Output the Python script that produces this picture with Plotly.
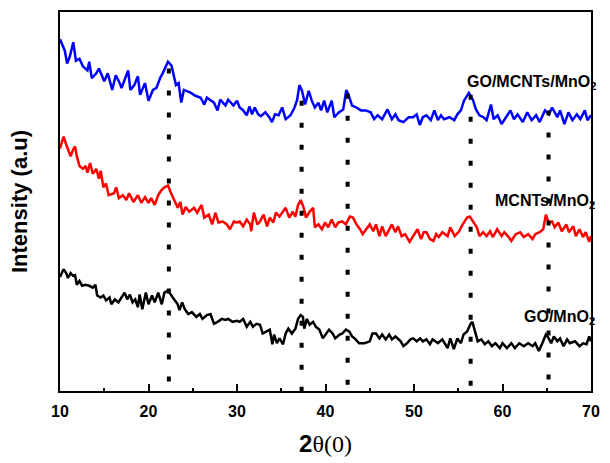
import plotly.graph_objects as go

# ---- data (2theta in degrees, intensity in arbitrary units) ----
tt_gmm = [10.0, 10.55, 10.8, 11.1, 11.5, 11.8, 12.2, 12.6, 13.1, 13.3, 13.6, 14.1, 14.4, 14.7, 15.0, 15.4, 15.9, 16.3,
          16.65, 16.95, 17.3, 17.7, 17.95, 18.4, 18.8, 19.05, 19.6, 20.0, 20.5, 20.9, 21.3, 21.6, 22.2, 22.6, 23.1, 23.4,
          23.7, 24.0, 24.8, 25.3, 25.9, 26.3, 26.6, 27.4, 27.8, 28.1, 28.7, 29.0, 29.6, 30.0, 30.3, 30.7, 31.1, 31.4,
          31.7, 32.0, 32.4, 32.7, 33.2, 33.65, 33.95, 34.3, 34.7, 35.1, 35.5, 36.05, 36.5, 36.8, 37.05, 37.35, 37.7,
          38.1, 38.45, 38.8, 39.2, 39.5, 39.85, 40.2, 40.7, 41.0, 41.5, 42.0, 42.35, 42.6, 43.0, 43.5, 44.0, 44.55,
          45.1, 45.5, 45.9, 46.4, 47.0, 47.5, 47.9, 48.25, 48.8, 49.4, 49.9, 50.3, 50.65, 51.0, 51.4, 51.9, 52.3,
          52.7, 53.05, 53.4, 54.0, 54.55, 54.9, 55.3, 55.65, 56.2, 56.65, 57.0, 57.4, 57.85, 58.2, 58.7, 59.0, 59.45,
          59.9, 60.45, 60.9, 61.3, 61.7, 62.3, 62.8, 63.3, 63.8, 64.2, 64.8, 65.25, 65.6, 66.2, 66.5, 67.0, 67.45,
          67.9, 68.4, 68.8, 69.3, 69.6, 69.9, 70.0]
int_gmm = [360, 348, 335, 342, 357, 338, 340, 332, 328, 337, 320, 325, 330, 323, 317, 325, 308, 323,
           317, 310, 318, 328, 308, 313, 322, 303, 315, 297, 308, 310, 320, 325, 337, 333, 313, 315,
           295, 308, 305, 302, 300, 293, 300, 295, 287, 298, 292, 298, 292, 297, 290, 287, 282, 291,
           283, 290, 283, 281, 285, 280, 275, 283, 282, 290, 278, 282, 290, 298, 313, 307, 293,
           307, 297, 290, 295, 287, 297, 285, 297, 280, 285, 288, 308, 303, 292, 290, 287, 287,
           285, 278, 282, 278, 288, 278, 283, 277, 275, 280, 280, 283, 272, 280, 282, 277, 287,
           277, 282, 278, 280, 277, 283, 287, 297, 305, 298, 288, 282, 280, 277, 293, 278, 282,
           273, 280, 287, 278, 283, 275, 285, 277, 282, 275, 287, 283, 290, 280, 287, 273, 285,
           277, 283, 278, 287, 277, 280, 282]

tt_mm = [10.0, 10.4, 10.7, 10.9, 11.2, 11.5, 11.7, 11.9, 12.2, 12.6, 12.9, 13.1, 13.4, 13.7, 14.1, 14.4, 14.6, 14.9,
         15.2, 15.5, 16.1, 16.35, 16.65, 17.1, 17.5, 17.8, 18.3, 18.8, 19.2, 19.6, 20.0, 20.3, 20.7, 21.1, 21.45,
         21.8, 22.2, 22.5, 22.9, 23.3, 23.6, 23.85, 24.2, 24.6, 25.15, 25.5, 26.0, 26.3, 26.8, 27.2, 27.55, 27.9,
         28.4, 28.85, 29.2, 29.65, 30.0, 30.3, 30.7, 31.1, 31.5, 31.6, 31.9, 32.3, 32.6, 33.0, 33.4, 33.7, 34.1,
         34.4, 34.8, 35.2, 35.5, 35.9, 36.3, 36.6, 36.9, 37.2, 37.5, 37.8, 38.2, 38.6, 38.8, 39.2, 39.6, 39.95,
         40.3, 40.7, 41.1, 41.45, 41.9, 42.3, 42.75, 43.1, 43.5, 43.9, 44.2, 44.6, 45.0, 45.4, 45.7, 46.1, 46.4,
         46.8, 47.1, 47.5, 47.9, 48.2, 48.6, 49.0, 49.5, 49.9, 50.4, 50.8, 51.1, 51.4, 51.8, 52.2, 52.5, 52.8,
         53.2, 53.8, 54.1, 54.6, 55.1, 55.5, 56.0, 56.3, 56.7, 57.1, 57.4, 57.8, 58.2, 58.6, 58.9, 59.4, 59.9,
         60.2, 60.7, 61.0, 61.5, 62.0, 62.4, 62.9, 63.4, 63.7, 64.2, 64.6, 64.9, 65.2, 65.6, 65.9, 66.3, 66.7,
         67.2, 67.5, 68.0, 68.3, 68.7, 69.1, 69.4, 69.8, 70.0]
int_mm = [248, 260, 252, 247, 240, 247, 250, 240, 230, 227, 230, 223, 233, 222, 227, 217, 225, 208,
          212, 200, 202, 208, 197, 200, 195, 202, 193, 200, 192, 198, 192, 197, 190, 200, 205,
          208, 210, 203, 195, 187, 193, 180, 188, 183, 187, 182, 190, 177, 180, 170, 182, 172,
          173, 170, 165, 173, 172, 173, 168, 175, 170, 163, 182, 170, 173, 180, 168, 177, 172,
          182, 178, 183, 187, 177, 183, 178, 190, 195, 188, 177, 183, 187, 167, 170, 165, 172,
          167, 175, 167, 172, 173, 170, 178, 177, 170, 165, 160, 165, 170, 163, 170, 158, 168,
          158, 163, 170, 162, 168, 158, 160, 152, 158, 165, 155, 162, 162, 155, 153, 160, 157,
          162, 158, 167, 158, 163, 170, 177, 178, 173, 167, 158, 162, 158, 163, 157, 165, 158,
          162, 157, 153, 160, 162, 157, 160, 155, 160, 162, 165, 180, 172, 173, 167, 172, 163,
          170, 162, 168, 158, 165, 157, 162, 152, 158]

tt_gm = [10.0, 10.4, 10.7, 10.9, 11.2, 11.5, 11.7, 11.9, 12.2, 12.5, 12.9, 13.3, 13.7, 14.0, 14.2, 14.6, 14.9, 15.2,
         15.6, 15.8, 16.2, 16.6, 16.95, 17.3, 17.6, 17.9, 18.2, 18.5, 18.8, 19.0, 19.3, 19.7, 20.0, 20.4, 20.7,
         21.1, 21.5, 21.8, 22.2, 22.55, 22.9, 23.3, 23.5, 23.8, 24.1, 24.5, 24.9, 25.4, 25.8, 26.1, 26.6, 27.0,
         27.4, 27.8, 28.3, 28.7, 29.0, 29.5, 30.0, 30.3, 30.7, 31.1, 31.5, 31.8, 32.2, 32.6, 32.9, 33.3, 33.7,
         34.0, 34.2, 34.5, 34.8, 35.2, 35.5, 35.8, 36.2, 36.6, 36.9, 37.2, 37.45, 37.6, 37.9, 38.2, 38.6, 38.9,
         39.3, 39.7, 40.0, 40.4, 40.8, 41.1, 41.6, 41.9, 42.3, 42.7, 43.0, 43.3, 43.8, 44.4, 45.0, 45.3, 45.7,
         46.1, 46.4, 46.8, 47.2, 47.5, 47.9, 48.5, 48.8, 49.2, 49.6, 49.9, 50.3, 50.7, 51.0, 51.4, 51.8, 52.1,
         52.7, 53.2, 53.8, 54.1, 54.5, 54.9, 55.3, 55.6, 56.0, 56.4, 56.6, 56.9, 57.2, 57.6, 58.0, 58.4, 58.8,
         59.2, 59.7, 60.0, 60.5, 61.0, 61.4, 61.9, 62.4, 62.9, 63.4, 63.7, 64.1, 64.5, 64.9, 65.1, 65.5, 65.8,
         66.2, 66.5, 66.9, 67.3, 67.6, 68.2, 68.7, 69.1, 69.5, 69.8, 70.0]
int_gm = [116, 124, 120, 115, 120, 117, 118, 108, 112, 107, 108, 107, 105, 108, 97, 95, 97, 92,
          95, 88, 93, 90, 95, 100, 93, 98, 90, 93, 85, 98, 83, 100, 88, 97, 90,
          100, 88, 100, 102, 98, 93, 88, 82, 90, 83, 78, 80, 75, 78, 73, 77, 78,
          68, 70, 73, 72, 73, 70, 71, 70, 73, 65, 70, 65, 68, 67, 58, 60, 62,
          47, 57, 48, 53, 47, 58, 63, 58, 63, 73, 77, 75, 63, 73, 67, 70, 65,
          62, 53, 57, 62, 58, 53, 57, 58, 62, 60, 55, 53, 48, 48, 50, 58, 58,
          53, 57, 52, 57, 52, 55, 50, 45, 48, 52, 53, 50, 53, 50, 52, 47, 52,
          48, 52, 43, 53, 42, 53, 48, 57, 60, 68, 70, 60, 50, 52, 47, 50, 45,
          48, 43, 48, 43, 48, 43, 48, 45, 48, 45, 48, 40, 48, 57, 55, 48, 55,
          50, 53, 45, 52, 48, 50, 45, 48, 47, 55, 50]

peak_pos = [22.3, 37.3, 42.5, 56.4, 65.2]
peak_top = [330, 297, 304, 303, 287]

labels = ["GO/MCNTs/MnO<sub>2</sub>", "MCNTs/MnO<sub>2</sub>", "GO/MnO<sub>2</sub>"]
label_x = [55.8, 58.9, 62.2]
label_y = [316, 194, 74]

fig = go.Figure()
for xs, ys, col in [(tt_gmm, int_gmm, "#0000FF"), (tt_mm, int_mm, "#FF0000"), (tt_gm, int_gm, "#000000")]:
    fig.add_trace(go.Scatter(x=xs, y=ys, mode="lines", line=dict(color=col, width=2.5),
                             showlegend=False, hoverinfo="skip"))

for p, t in zip(peak_pos, peak_top):
    fig.add_trace(go.Scatter(x=[p, p], y=[t, -1], mode="lines",
                             line=dict(color="black", width=4, dash="5px,17px"),
                             showlegend=False, hoverinfo="skip"))

for txt, xx, yy in zip(labels, label_x, label_y):
    fig.add_annotation(x=xx, y=yy, xref="x", yref="y", text=txt, showarrow=False,
                       xanchor="left", yanchor="middle",
                       font=dict(family="Liberation Sans, Arial", size=16, color="black", weight="bold"))

fig.update_layout(
    width=610, height=463,
    margin=dict(l=60, r=10, t=12, b=62),
    paper_bgcolor="white", plot_bgcolor="white",
    xaxis=dict(range=[10, 70], tickvals=[10, 20, 30, 40, 50, 60, 70],
               ticks="inside", ticklen=7, tickwidth=1.5, tickcolor="black",
               minor=dict(tickvals=[15, 25, 35, 45, 55, 65], ticks="inside", ticklen=3, tickwidth=1.5, tickcolor="black"),
               showline=True, linecolor="black", linewidth=2, mirror=True, showgrid=False, zeroline=False,
               ticklabelstandoff=5,
               tickfont=dict(family="Liberation Sans, Arial", size=16, color="black", weight="bold"),
               title=dict(text="<b>2</b><span style=\"font-family:'Liberation Serif'\">θ(0)</span>",
                          font=dict(family="Liberation Sans, Arial", size=24, color="black"), standoff=16)),
    yaxis=dict(range=[-1, 388], showticklabels=False, ticks="",
               showline=True, linecolor="black", linewidth=2, mirror=True, showgrid=False, zeroline=False,
               title=dict(text="<b>Intensity (a.u)</b>",
                          font=dict(family="Liberation Sans, Arial", size=22, color="black"), standoff=24)),
)

fig.write_html("out.html")
